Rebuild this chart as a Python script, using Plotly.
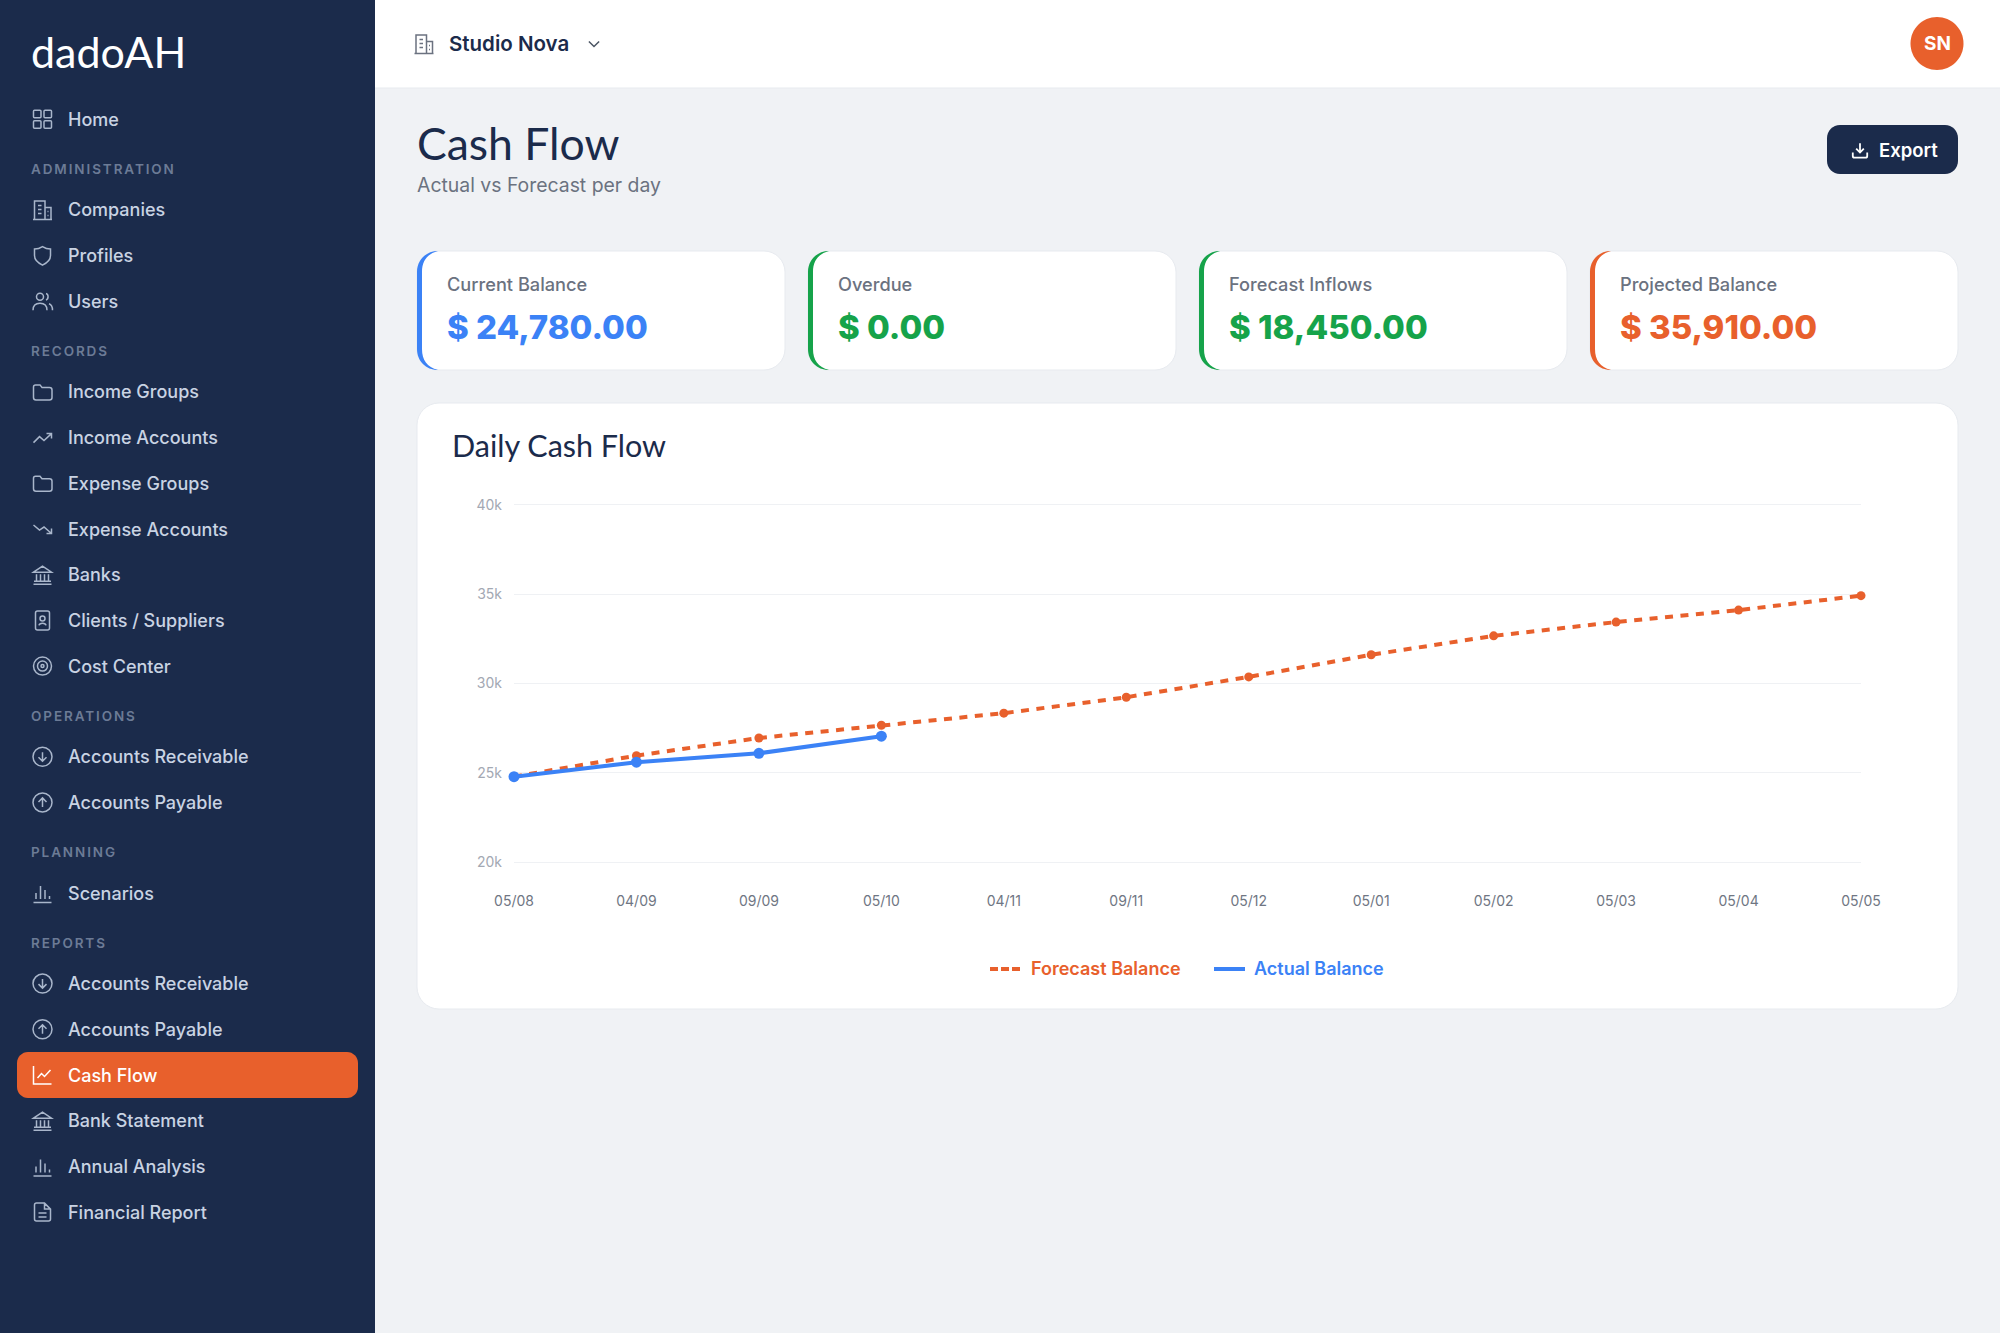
#!/usr/bin/env python3
# Cash Flow dashboard page: sidebar, KPI cards and the daily cash flow line chart
import plotly.graph_objects as go

W, H = 2000, 1333

#%% data

days = ['05/08', '04/09', '09/09', '05/10', '04/11', '09/11',
        '05/12', '05/01', '05/02', '05/03', '05/04', '05/05']
forecast_balance = [24780, 25960, 26950, 27660, 28340, 29230,
                    30370, 31610, 32670, 33440, 34110, 34920]
actual_balance = [24780, 25590, 26090, 27050, None, None,
                  None, None, None, None, None, None]
y_ticks = [20000, 25000, 30000, 35000, 40000]
y_labels = ['20k', '25k', '30k', '35k', '40k']

kpi_labels = ['Current Balance', 'Overdue', 'Forecast Inflows', 'Projected Balance']
kpi_values = ['$ 24,780.00', '$ 0.00', '$ 18,450.00', '$ 35,910.00']

# sidebar rows: section heading that opens the row (or None), label, icon
nav = [
    (None, 'Home', 'grid'),
    ('ADMINISTRATION', 'Companies', 'building'),
    (None, 'Profiles', 'shield'),
    (None, 'Users', 'users'),
    ('RECORDS', 'Income Groups', 'folder'),
    (None, 'Income Accounts', 'trend_up'),
    (None, 'Expense Groups', 'folder'),
    (None, 'Expense Accounts', 'trend_down'),
    (None, 'Banks', 'bank'),
    (None, 'Clients / Suppliers', 'contact'),
    (None, 'Cost Center', 'target'),
    ('OPERATIONS', 'Accounts Receivable', 'circle_down'),
    (None, 'Accounts Payable', 'circle_up'),
    ('PLANNING', 'Scenarios', 'bars'),
    ('REPORTS', 'Accounts Receivable', 'circle_down'),
    (None, 'Accounts Payable', 'circle_up'),
    (None, 'Cash Flow', 'line_chart'),
    (None, 'Bank Statement', 'bank'),
    (None, 'Annual Analysis', 'bars'),
    (None, 'Financial Report', 'file'),
]
active_item = 'Cash Flow'

#%% colours

NAVY = '#1b2b4b'
PAGE = '#f0f2f5'
BORDER = '#e7eaef'
ORANGE = '#e8602c'
BLUE = '#3b82f6'
GREEN = '#16a34a'
GREY = '#6b7280'
kpi_colors = [BLUE, GREEN, GREEN, ORANGE]

BODY = 'Inter'
HEAD = 'Lato'

#%% pixel helpers, everything outside the plot area is placed in page pixels

shapes = []
notes = []


def fx(x):
    return x / W


def fy(y):
    return 1 - y / H


def to_paper(d, ox=0, oy=0, s=1):
    out = []
    is_x = True
    for tok in d.split():
        if tok.isalpha():
            out.append(tok)
            is_x = True
        elif is_x:
            out.append(f'{fx(ox + float(tok) * s):.5f}')
            is_x = False
        else:
            out.append(f'{fy(oy + float(tok) * s):.5f}')
            is_x = True
    return ' '.join(out)


def rr(x, y, w, h, r):
    k = r * 0.45
    x2, y2 = x + w, y + h
    return (f'M {x + r} {y} L {x2 - r} {y} C {x2 - k} {y} {x2} {y + k} {x2} {y + r} '
            f'L {x2} {y2 - r} C {x2} {y2 - k} {x2 - k} {y2} {x2 - r} {y2} '
            f'L {x + r} {y2} C {x + k} {y2} {x} {y2 - k} {x} {y2 - r} '
            f'L {x} {y + r} C {x} {y + k} {x + k} {y} {x + r} {y} Z')


def circ(cx, cy, r):
    k = r * 0.5523
    return (f'M {cx - r} {cy} C {cx - r} {cy - k} {cx - k} {cy - r} {cx} {cy - r} '
            f'C {cx + k} {cy - r} {cx + r} {cy - k} {cx + r} {cy} '
            f'C {cx + r} {cy + k} {cx + k} {cy + r} {cx} {cy + r} '
            f'C {cx - k} {cy + r} {cx - r} {cy + k} {cx - r} {cy} Z')


def add_path(d, fill='rgba(0,0,0,0)', line=None, lw=0):
    shapes.append(dict(type='path', path=to_paper(d), xref='paper', yref='paper',
                       fillcolor=fill, layer='below',
                       line=dict(color=line or 'rgba(0,0,0,0)', width=lw)))


def add_text(x, y, text, size, color, weight=400, family=BODY, anchor='left'):
    notes.append(dict(x=fx(x), y=fy(y), xref='paper', yref='paper', text=text,
                      showarrow=False, xanchor=anchor, yanchor='middle', align=anchor,
                      borderpad=0, borderwidth=0,
                      font=dict(family=family, size=size, color=color, weight=weight)))


# line icons on a 24 unit box
ICONS = {
    'grid': [rr(3, 3, 7.5, 7.5, 1), rr(13.5, 3, 7.5, 7.5, 1),
             rr(3, 13.5, 7.5, 7.5, 1), rr(13.5, 13.5, 7.5, 7.5, 1)],
    'building': ['M 4 21.5 L 4 3 L 14.5 3 L 14.5 21.5', 'M 14.5 9.5 L 20.5 9.5 L 20.5 21.5',
                 'M 2.5 21.5 L 21.5 21.5', 'M 7.5 7.5 L 11 7.5', 'M 7.5 11.5 L 11 11.5',
                 'M 7.5 15.5 L 11 15.5', 'M 17 13.5 L 18 13.5', 'M 17 17.5 L 18 17.5'],
    'shield': ['M 12 3 C 15 5 17 5.5 20 5.5 L 20 12 C 20 17 16.5 19.5 12 21.5 '
               'C 7.5 19.5 4 17 4 12 L 4 5.5 C 7 5.5 9 5 12 3 Z'],
    'users': [circ(9.5, 7.5, 3.5), 'M 2.5 21 C 2.5 16 5 14 9.5 14 C 14 14 16.5 16 16.5 21',
              'M 15.5 4.3 C 18 4.8 18.5 9.5 15.5 10.8', 'M 18.5 14.5 C 21 15.3 22 17.5 22 21'],
    'folder': ['M 3 7 Q 3 5 5 5 L 9.5 5 L 11.5 7.5 L 19 7.5 Q 21.5 7.5 21.5 10 L 21.5 17.5 '
               'Q 21.5 20 19 20 L 5.5 20 Q 3 20 3 17.5 Z'],
    'trend_up': ['M 3 17 L 9 11 L 13.5 15 L 21 8', 'M 16 8 L 21 8 L 21 13'],
    'trend_down': ['M 3 8 L 9 13 L 13.5 10 L 21 16.5', 'M 16 16.5 L 21 16.5 L 21 11.5'],
    'bank': ['M 3 21.5 L 21 21.5', 'M 3.5 18.5 L 20.5 18.5', 'M 3 9.5 L 12 3.5 L 21 9.5 Z',
             'M 6 18 L 6 11.5', 'M 10 18 L 10 11.5', 'M 14 18 L 14 11.5', 'M 18 18 L 18 11.5'],
    'contact': [rr(5, 2.5, 14, 19, 2), circ(12, 10, 2.5), 'M 8.5 17 C 9 14 15 14 15.5 17'],
    'target': [circ(12, 12, 9), circ(12, 12, 5), circ(12, 12, 1.5)],
    'circle_down': [circ(12, 12, 9.5), 'M 12 7.5 L 12 16', 'M 8 12.5 L 12 16.5 L 16 12.5'],
    'circle_up': [circ(12, 12, 9.5), 'M 12 16.5 L 12 8', 'M 8 11.5 L 12 7.5 L 16 11.5'],
    'bars': ['M 3 21.5 L 21 21.5', 'M 5.5 18 L 5.5 12', 'M 10 18 L 10 5',
             'M 14.5 18 L 14.5 9', 'M 19 18 L 19 15'],
    'line_chart': ['M 3 3 L 3 21 L 21 21', 'M 7 15 L 11 10.5 L 14 13.5 L 20 7'],
    'file': ['M 6 3 L 14 3 L 20 9 L 20 19 Q 20 21 18 21 L 6 21 Q 4 21 4 19 L 4 5 Q 4 3 6 3 Z',
             'M 14 3 L 14 9 L 20 9', 'M 8 13 L 16 13', 'M 8 17 L 16 17'],
    'download': ['M 12 4 L 12 15', 'M 7.5 10.5 L 12 15 L 16.5 10.5',
                 'M 3.5 15 L 3.5 19 Q 3.5 21 5.5 21 L 18.5 21 Q 20.5 21 20.5 19 L 20.5 15'],
    'chevron': ['M 6 9 L 12 15 L 18 9'],
}


def add_icon(name, cx, cy, color, s=1.0, lw=1.5):
    d = to_paper(' '.join(ICONS[name]), cx - 12 * s, cy - 12 * s, s)
    shapes.append(dict(type='path', path=d, xref='paper', yref='paper', layer='above',
                       fillcolor='rgba(0,0,0,0)', line=dict(color=color, width=lw)))


#%% page frame

shapes.append(dict(type='rect', xref='paper', yref='paper', layer='below',
                   x0=fx(0), x1=fx(375), y0=fy(H), y1=fy(0),
                   fillcolor=NAVY, line=dict(width=0)))
shapes.append(dict(type='rect', xref='paper', yref='paper', layer='below',
                   x0=fx(375), x1=fx(W), y0=fy(88), y1=fy(0),
                   fillcolor='white', line=dict(width=0)))
shapes.append(dict(type='line', xref='paper', yref='paper', layer='below',
                   x0=fx(375), x1=fx(W), y0=fy(88), y1=fy(88),
                   line=dict(color=BORDER, width=1)))

#%% sidebar

add_text(31, 51, 'dadoAH', 43, 'white', 400, HEAD)

row_y = 119.3
for i, (section, label, icon) in enumerate(nav):
    if section:
        head_y = row_y + 50
        add_text(31, head_y, section, 13.5, '#6c7b96', 600)
        row_y = head_y + 40.6
    elif i:
        row_y += 45.7
    item_color = '#c9d3e3'
    if label == active_item:
        item_color = 'white'
        add_path(rr(17, row_y - 23, 341, 46, 11), fill=ORANGE)
    add_icon(icon, 42.5, row_y, 'white' if label == active_item else '#a9b6cb')
    add_text(68, row_y, label, 18, item_color, 500)

#%% top bar and page title

add_icon('building', 424, 44, '#6b7280')
add_text(449, 44, 'Studio Nova', 20.5, NAVY, 600)
add_icon('chevron', 594, 44, '#4b5563', 0.85)
add_path(circ(1937, 43.5, 26.5), fill=ORANGE)
add_text(1937, 43.5, 'SN', 19, 'white', 700, anchor='center')

add_text(417, 142, 'Cash Flow', 44.5, NAVY, 400, HEAD)
add_text(417, 185, 'Actual vs Forecast per day', 19.4, GREY, 400)

add_path(rr(1827, 125, 131, 49, 13), fill=NAVY)
add_icon('download', 1860, 150, 'white', 0.85, 1.8)
add_text(1879, 150, 'Export', 18.5, 'white', 600)

#%% KPI cards

card_x = [417, 808, 1199, 1590]
card_w, card_top, card_h = 368, 251, 119
for x, label, value, color in zip(card_x, kpi_labels, kpi_values, kpi_colors):
    add_path(rr(x, card_top, card_w, card_h, 21), fill='white', line=BORDER, lw=1)
    r, b = 21, card_top + card_h
    add_path(f'M {x + r} {card_top} C {x + 9} {card_top} {x} {card_top + 9} {x} {card_top + r} '
             f'L {x} {b - r} C {x} {b - 9} {x + 9} {b} {x + r} {b} '
             f'C {x + 10} {b - 3} {x + 5} {b - 10} {x + 5} {b - r} '
             f'L {x + 5} {card_top + r} C {x + 5} {card_top + 10} {x + 10} {card_top + 3} '
             f'{x + r} {card_top} Z', fill=color)
    add_text(x + 30, 284, label, 18.2, GREY, 500)
    add_text(x + 30, 326.5, value, 33, color, 800)

#%% chart card and its legend

add_path(rr(417, 403, 1541, 606, 22), fill='white', line=BORDER, lw=1)
add_text(452, 445, 'Daily Cash Flow', 30.5, NAVY, 400, HEAD)

shapes.append(dict(type='line', xref='paper', yref='paper', layer='above',
                   x0=fx(990), x1=fx(1022), y0=fy(969), y1=fy(969),
                   line=dict(color=ORANGE, width=4, dash='8px,3px')))
add_text(1031, 968, 'Forecast Balance', 18, ORANGE, 600)
shapes.append(dict(type='line', xref='paper', yref='paper', layer='above',
                   x0=fx(1214), x1=fx(1245), y0=fy(969), y1=fy(969),
                   line=dict(color=BLUE, width=4)))
add_text(1254, 968, 'Actual Balance', 18, BLUE, 600)

#%% the chart

fig = go.Figure()
fig.add_trace(go.Scatter(x=days,
                         y=forecast_balance,
                         mode='lines+markers',
                         name='Forecast Balance',
                         cliponaxis=False,
                         line=dict(color=ORANGE, width=4, dash='8px,7.5px'),
                         marker=dict(color=ORANGE, size=9)))
fig.add_trace(go.Scatter(x=days,
                         y=actual_balance,
                         mode='lines+markers',
                         name='Actual Balance',
                         cliponaxis=False,
                         line=dict(color=BLUE, width=4),
                         marker=dict(color=BLUE, size=11)))

fig.update_xaxes(domain=[fx(514), fx(1861)],
                 type='category',
                 categoryorder='array',
                 categoryarray=days,
                 range=[0, len(days) - 1],
                 automargin=False,
                 showgrid=False,
                 zeroline=False,
                 showline=False,
                 ticks='',
                 ticklabelstandoff=28,
                 tickangle=0,
                 tickfont=dict(family=BODY, size=14, color='#6f7683'))
# a little slack past 20k and 40k, plotly drops grid lines that sit on the plot edge
fig.update_yaxes(domain=[fy(863.1), fy(503.9)],
                 range=[y_ticks[0] - 60, y_ticks[-1] + 60],
                 tickvals=y_ticks,
                 ticktext=y_labels,
                 automargin=False,
                 gridcolor='#eff1f4',
                 gridwidth=1.3,
                 zeroline=False,
                 showline=False,
                 ticks='',
                 ticklabelstandoff=11,
                 tickfont=dict(family=BODY, size=14, color='#a3a8b3'))
fig.update_layout(width=W, height=H,
                  margin=dict(l=0, r=0, t=0, b=0, autoexpand=False),
                  autosize=False,
                  showlegend=False,
                  hovermode=False,
                  paper_bgcolor=PAGE,
                  plot_bgcolor='rgba(0,0,0,0)',
                  shapes=shapes,
                  annotations=notes)

# no body margin, and the spaced out sidebar section names
sections = [n[0] for n in nav if n[0]]
css = 'body{margin:0;overflow:hidden}' + ''.join(
    f'.annotation-text[data-unformatted="{s}"]{{letter-spacing:1.9px}}' for s in sections)
post = ("var st=document.createElement('style');st.textContent='" + css +
        "';document.head.appendChild(st);")
fig.write_html('out.html', config=dict(displayModeBar=False), post_script=post)
